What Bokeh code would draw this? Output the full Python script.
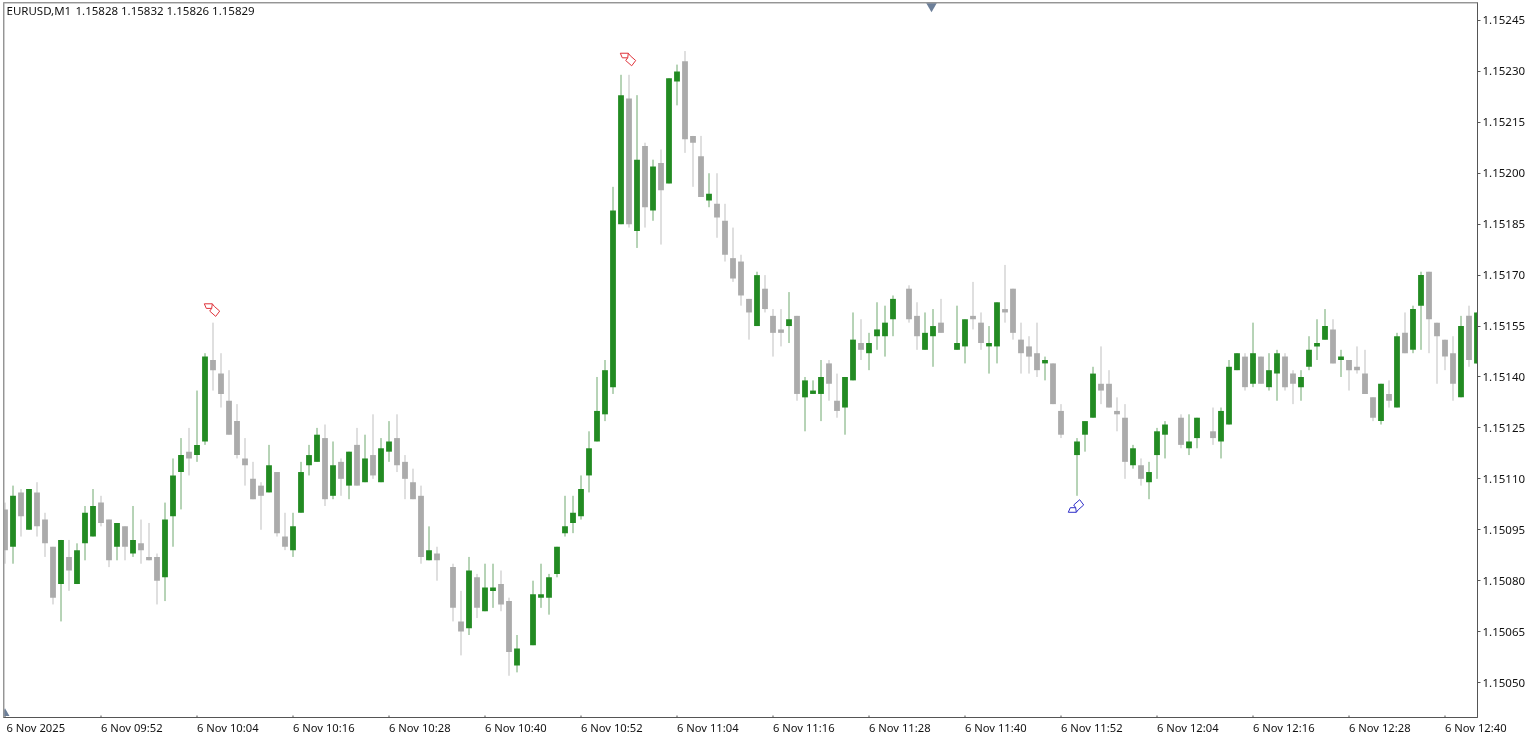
from bokeh.plotting import figure
from bokeh.embed import file_html
from bokeh.resources import INLINE
from bokeh.models import FixedTicker, PrintfTickFormatter, Label, Span, ColumnDataSource

# values are hundred-thousandths above 1.15000; None = no bar drawn at that minute
open_pts = [
101,90,106,95,106,98,90,79,87,79,
91,93,103,98,90,96,88,91,87,87,
81,99,112,118,117,121,145,141,133,127,
116,110,108,106,112,93,89,100,114,115,
122,105,115,108,120,109,117,109,118,122,
115,109,105,86,88,None,84,68,66,81,
71,77,79,74,55,None,61,75,75,82,
94,97,99,111,121,129,137,185,222,183,
208,189,203,197,227,233,211,205,192,191,
186,175,174,163,155,166,158,154,155,158,
134,135,135,144,133,131,139,150,147,152,
152,157,None,166,158,148,152,156,None,148,
149,158,156,149,149,160,166,151,149,147,
144,144,130,None,117,123,128,138,138,130,
128,114,114,109,117,123,None,128,119,122,
None,124,121,126,142,146,138,146,137,141,
146,141,137,143,149,151,154,145,145,143,
141,134,127,135,131,153,148,161,171,156,
151,147,134,158,144]
close_pts = [
89,105,99,107,96,91,75,92,83,89,
100,102,97,86,97,90,92,89,86,80,
98,111,117,116,120,146,142,135,123,117,
114,104,105,114,94,90,96,112,117,123,
104,114,110,118,108,116,111,119,121,114,
110,104,87,89,86,None,72,65,83,72,
78,78,73,59,60,None,76,76,81,90,
96,100,107,119,130,142,189,223,185,204,
190,202,195,228,230,210,209,193,194,187,
176,169,164,159,170,160,153,153,157,135,
139,136,140,138,130,140,151,148,150,154,
156,163,None,157,152,153,155,153,None,150,
157,157,150,150,162,159,153,147,146,142,
145,132,123,None,121,127,141,136,131,129,
115,119,110,112,124,126,None,120,121,128,
None,122,130,143,147,137,147,138,142,147,
137,138,140,148,150,155,144,146,142,142,
135,128,138,133,152,147,160,170,157,152,
146,138,155,145,159]
high_pts = [
103,108,107,107,109,100,90,92,92,91,
102,107,105,98,97,96,102,98,97,88,
103,116,122,125,136,147,156,147,142,132,
122,115,109,120,112,100,100,115,120,125,
126,121,116,118,125,123,129,122,127,129,
117,113,108,96,90,None,85,77,87,82,
85,85,83,75,64,None,80,85,82,90,
105,105,111,124,140,145,196,229,229,223,
209,204,207,228,232,236,211,211,200,200,
191,184,176,163,171,170,160,160,165,158,
140,139,145,145,141,140,159,157,153,162,
161,164,None,167,162,159,160,163,None,161,
157,168,159,155,162,173,166,156,152,156,
146,144,132,None,122,127,143,149,142,134,
132,120,116,115,125,127,None,129,129,128,
None,131,131,145,147,147,156,146,147,148,
147,142,142,152,157,160,157,148,145,149,
148,134,138,139,153,159,161,171,171,156,
151,152,158,161,159]
low_pts = [
85,85,93,95,93,87,73,68,77,79,
86,93,96,84,86,86,87,85,86,73,
74,90,101,111,115,120,136,131,123,116,
108,104,95,106,93,89,87,100,111,115,
102,104,105,104,108,109,110,109,115,112,
104,104,85,86,80,None,68,58,64,69,
71,72,71,52,53,None,61,72,70,81,
93,94,98,106,121,127,135,185,184,178,
184,186,179,197,220,206,196,193,190,181,
174,168,161,151,155,159,146,149,150,133,
124,135,127,133,128,123,139,145,142,148,
146,152,None,156,148,148,143,153,None,148,
144,154,148,141,144,156,151,141,141,140,
139,132,122,None,105,118,128,132,131,124,
110,113,108,104,110,116,None,119,117,119,
None,120,116,126,142,136,137,138,136,133,
136,132,133,142,145,151,144,140,136,141,
135,127,126,131,131,147,147,148,147,138,
142,133,134,143,144]
assert len(open_pts) == len(close_pts) == len(high_pts) == len(low_pts) == 185

time_ticks = [0, 12, 24, 36, 48, 60, 72, 84, 96, 108, 120, 132, 144, 156, 168, 180]
time_labels = ["6 Nov 2025", "6 Nov 09:52", "6 Nov 10:04", "6 Nov 10:16", "6 Nov 10:28", "6 Nov 10:40",
               "6 Nov 10:52", "6 Nov 11:04", "6 Nov 11:16", "6 Nov 11:28", "6 Nov 11:40", "6 Nov 11:52",
               "6 Nov 12:04", "6 Nov 12:16", "6 Nov 12:28", "6 Nov 12:40"]
price_ticks = [1.15050, 1.15065, 1.15080, 1.15095, 1.15110, 1.15125, 1.15140, 1.15155,
               1.15170, 1.15185, 1.15200, 1.15215, 1.15230, 1.15245]
signal_bar = [26, 78, 134]
signal_pts = [159.7, 233.5, 102.0]
signal_dir = [1, 1, -1]  # 1 = down arrow (red), -1 = up arrow (blue)
header_symbol = "EURUSD,M1"
header_quote = "1.15828 1.15832 1.15826 1.15829"

GREEN, GRAY = "#228b22", "#ababab"
WICK_GREEN, WICK_GRAY = "#6ea86e", "#bfbfbf"
FONT = "Noto Sans"
PX_X, PX_Y = 8.0, 3.4  # px per bar, px per point


def price(pts):
    return 1.15 + pts / 1e5


rows = [i for i in range(185) if open_pts[i] is not None]
src = ColumnDataSource(dict(
    x=rows,
    top=[price(max(open_pts[i], close_pts[i])) for i in rows],
    bottom=[price(min(open_pts[i], close_pts[i])) for i in rows],
    high=[price(high_pts[i]) for i in rows],
    low=[price(low_pts[i]) for i in rows],
    body=[GREEN if close_pts[i] > open_pts[i] else GRAY for i in rows],
    wick=[WICK_GREEN if close_pts[i] > open_pts[i] else WICK_GRAY for i in rows],
))

FL, FR, FT, FB = 3, 1477, 2, 718
HEIGHT = 737
x0 = (FL - 4.5) / PX_X
x1 = (FR - 4.5) / PX_X
y_hi = price(50 + (683 - FT) / PX_Y)
y_lo = price(50 + (683 - FB) / PX_Y)

p = figure(width=1534, height=HEIGHT, output_backend="svg", toolbar_location=None,
           x_range=(x0, x1), y_range=(y_lo, y_hi), y_axis_location="right",
           min_border_left=FL, min_border_right=1534 - FR, min_border_top=FT, min_border_bottom=HEIGHT - FB,
           background_fill_color="#ffffff", border_fill_color="#ffffff")
p.styles = {"position": "fixed", "left": "0px", "top": "0px"}
p.grid.visible = False
p.outline_line_color = "#8a8a8a"
p.outline_line_width = 1

p.segment("x", "high", "x", "low", source=src, line_color="wick", line_width=1)
p.vbar("x", width=5.8 / PX_X, top="top", bottom="bottom", source=src,
       fill_color="body", line_color=None)

# time tick marks rising 2px from the bottom edge
tick_top = y_lo + 2 / PX_Y / 1e5
p.segment(time_ticks, [y_lo] * len(time_ticks), time_ticks, [tick_top] * len(time_ticks),
          line_color="#555555", line_width=1)

# signal arrows: outline in px offsets around the signal point
shape = [(-7.7, -6.3), (0.3, -6.3), (2.3, -3.7), (7.7, 1.0), (3.7, 6.3), (-2.3, 1.0), (-0.3, -1.7), (-5.7, -1.7)]
inner = [(0.3, -6.3), (-0.3, -1.7)]
for k, s, d in zip(signal_bar, signal_pts, signal_dir):
    col = "#e0323a" if d == 1 else "#2e2ec8"
    p.patch([k - 1 / PX_X + dx / PX_X for dx, _ in shape], [price(s - d * dy / PX_Y) for _, dy in shape],
            fill_color="#ffffff", line_color=col, line_width=1)
    p.line([k - 1 / PX_X + dx / PX_X for dx, _ in inner], [price(s - d * dy / PX_Y) for _, dy in inner],
           line_color=col, line_width=1)

# small chart-shift markers
p.scatter([(931 - 4.5) / PX_X], [price(50 + (683 - 5.5) / PX_Y)], marker="inverted_triangle", size=11,
          fill_color="#6c7f99", line_color=None)
p.scatter([0], [price(50 + (683 - 714) / PX_Y)], marker="triangle", size=9,
          fill_color="#6c7f99", line_color=None)

p.add_layout(Span(location=x0, dimension="height", line_color="#a0a0a0", line_width=2))
p.add_layout(Span(location=y_hi, dimension="width", line_color="#a0a0a0", line_width=2))

# labels start at their tick in the reference, so the axis centres them 3.85 bars to the right
label_shift = 3.85
xa = p.xaxis[0]
xa.ticker = FixedTicker(ticks=[t + label_shift for t in time_ticks])
xa.major_label_overrides = {t + label_shift: s for t, s in zip(time_ticks, time_labels)}
xa.major_label_text_font = FONT
xa.major_label_text_font_size = "11.2px"
xa.major_label_text_color = "#111111"
xa.major_label_standoff = 2
xa.axis_line_color = "#555555"
xa.major_tick_in = 0
xa.major_tick_out = 0
xa.major_tick_line_color = None
xa.minor_tick_line_color = None
xa.minor_tick_in = 0
xa.minor_tick_out = 0

ya = p.yaxis[0]
ya.ticker = FixedTicker(ticks=price_ticks)
ya.formatter = PrintfTickFormatter(format="%.5f")
ya.major_label_text_font = FONT
ya.major_label_text_font_size = "11.5px"
ya.major_label_text_color = "#111111"
ya.major_label_standoff = 2
ya.axis_line_color = "#555555"
ya.major_tick_in = 0
ya.major_tick_out = 3
ya.major_tick_line_color = "#555555"
ya.minor_tick_line_color = None

p.add_layout(Label(x=3, y=700, x_units="screen", y_units="screen", text=header_symbol,
                   text_font=FONT, text_font_size="11.5px", text_color="#111111"))
p.add_layout(Label(x=72, y=700, x_units="screen", y_units="screen", text=header_quote,
                   text_font=FONT, text_font_size="11.5px", text_color="#111111"))

open("out.html", "w").write(file_html(p, INLINE))
